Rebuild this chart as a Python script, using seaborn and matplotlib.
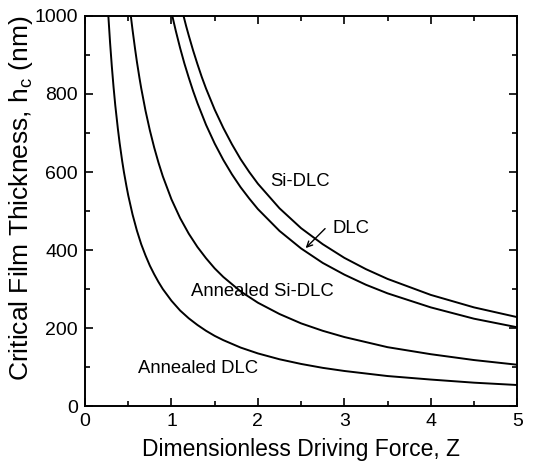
import matplotlib
matplotlib.use("Agg")
import matplotlib.pyplot as plt
import seaborn as sns
import pandas as pd
from matplotlib.ticker import MultipleLocator

# ---- data ----
z_annealed_dlc = [0.27, 0.29, 0.31, 0.33, 0.35, 0.38, 0.4, 0.43, 0.45, 0.48, 0.5, 0.55, 0.6, 0.65, 0.7, 0.75, 0.8, 0.85, 0.9, 1.0,
                  1.1, 1.2, 1.3, 1.4, 1.5, 1.6, 1.8, 2.0, 2.25, 2.5, 2.75, 3.0, 3.5, 4.0, 4.5, 5.0]
h_annealed_dlc = [1000, 931, 871, 818, 771, 711, 675, 628, 600, 563, 540, 491, 450, 415, 386, 360, 338, 318, 300, 270,
                  245, 225, 208, 193, 180, 169, 150, 135, 120, 108, 98, 90, 77, 68, 60, 54]

z_annealed_sidlc = [0.53, 0.55, 0.58, 0.6, 0.63, 0.65, 0.7, 0.75, 0.8, 0.85, 0.9, 1.0, 1.1, 1.2, 1.3, 1.4, 1.5, 1.6, 1.8, 2.0,
                    2.25, 2.5, 2.75, 3.0, 3.5, 4.0, 4.5, 5.0]
h_annealed_sidlc = [1000, 964, 914, 883, 841, 815, 757, 707, 663, 624, 589, 530, 482, 442, 408, 379, 353, 331, 294, 265,
                    236, 212, 193, 177, 151, 133, 118, 106]

z_dlc = [1.01, 1.05, 1.1, 1.15, 1.2, 1.25, 1.3, 1.4, 1.5, 1.6, 1.7, 1.8, 1.9, 2.0, 2.25, 2.5, 2.75, 3.0, 3.25, 3.5, 4.0, 4.5, 5.0]
h_dlc = [1000, 962, 918, 878, 842, 808, 777, 721, 673, 631, 594, 561, 532, 505, 449, 404, 367, 337, 311, 289, 253, 224, 202]

z_sidlc = [1.14, 1.17, 1.2, 1.25, 1.3, 1.35, 1.4, 1.5, 1.6, 1.7, 1.8, 1.9, 2.0, 2.25, 2.5, 2.75, 3.0, 3.25, 3.5, 4.0, 4.5, 5.0]
h_sidlc = [1000, 974, 950, 912, 877, 844, 814, 760, 713, 671, 633, 600, 570, 507, 456, 415, 380, 351, 326, 285, 253, 228]

series = [("Annealed DLC", z_annealed_dlc, h_annealed_dlc),
          ("Annealed Si-DLC", z_annealed_sidlc, h_annealed_sidlc),
          ("DLC", z_dlc, h_dlc),
          ("Si-DLC", z_sidlc, h_sidlc)]

sns.set_style("ticks")
plt.rcParams['font.family'] = ['Liberation Sans', 'DejaVu Sans']
plt.rcParams['mathtext.fontset'] = 'custom'
plt.rcParams['mathtext.rm'] = 'Liberation Sans'
plt.rcParams['mathtext.it'] = 'Liberation Sans'
for k in ['text.color', 'axes.labelcolor', 'xtick.color', 'ytick.color', 'axes.edgecolor']:
    plt.rcParams[k] = 'black'

fig = plt.figure(figsize=(5.45, 4.7), dpi=100)
ax = fig.add_axes([0.156, 0.136, 0.793, 0.830])

for name, z, h in series:
    df = pd.DataFrame({"Z": z, "h": h})
    sns.lineplot(data=df, x="Z", y="h", ax=ax, color="black", lw=1.4,
                 estimator=None, sort=False)

ax.set_xlim(0, 5)
ax.set_ylim(0, 1000)
ax.xaxis.set_major_locator(MultipleLocator(1))
ax.xaxis.set_minor_locator(MultipleLocator(0.5))
ax.yaxis.set_major_locator(MultipleLocator(200))
ax.yaxis.set_minor_locator(MultipleLocator(100))
ax.tick_params(which="both", direction="in", top=True, right=True, width=1.2,
               labelsize=14, pad=5, colors="black")
ax.tick_params(which="major", length=6)
ax.tick_params(which="minor", length=3.5)
for sp in ax.spines.values():
    sp.set_linewidth(1.4)
    sp.set_visible(True)
    sp.set_color("black")

ax.set_xlabel("Dimensionless Driving Force, Z", fontsize=16.5, labelpad=6)
ax.set_ylabel(r"Critical Film Thickness, h$_\mathregular{c}$ (nm)", fontsize=19)
ax.yaxis.set_label_coords(-0.116, 0.533)

fs = 13.3
ax.text(2.49, 575, "Si-DLC", fontsize=fs, ha="center", va="center")
ax.text(2.86, 456, "DLC", fontsize=fs, ha="left", va="center")
ax.text(2.05, 293, "Annealed Si-DLC", fontsize=fs, ha="center", va="center")
ax.text(1.31, 97, "Annealed DLC", fontsize=fs, ha="center", va="center")
ax.annotate("", xy=(2.53, 400), xytext=(2.8, 460),
            arrowprops=dict(arrowstyle="->", color="black", lw=1.0))

fig.savefig("out.png", dpi=100)
